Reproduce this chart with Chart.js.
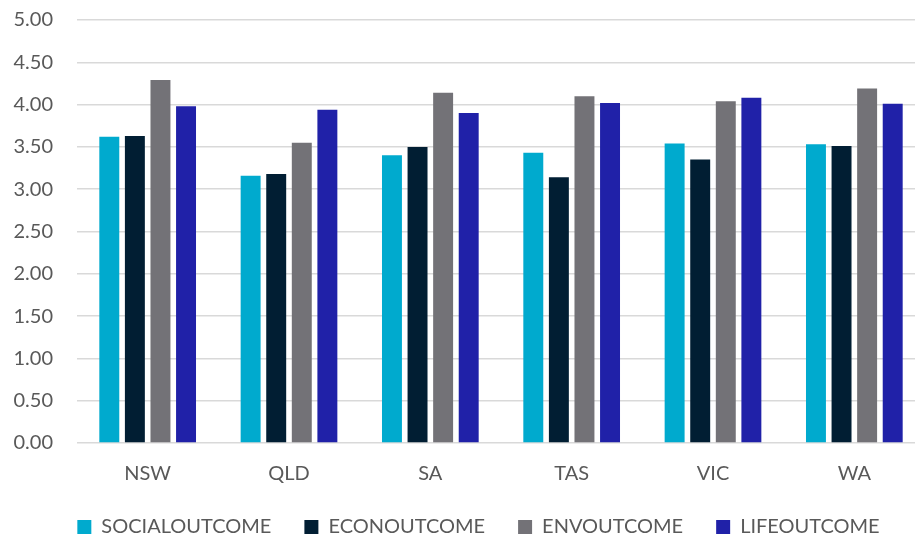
<!DOCTYPE html>
<html>
<head>
<meta charset="utf-8">
<script src="https://cdn.jsdelivr.net/npm/chart.js@4/dist/chart.umd.min.js"></script>
<style>
  html, body { margin: 0; padding: 0; background: #ffffff; overflow: hidden; }
  #wrap { width: 915px; height: 537px; overflow: hidden; }
</style>
</head>
<body>
<div id="wrap"><canvas id="c" width="925" height="537"></canvas></div>
<script>
const categories = ['NSW', 'QLD', 'SA', 'TAS', 'VIC', 'WA'];
const socialOutcome = [3.62, 3.16, 3.40, 3.43, 3.54, 3.53];
const econOutcome   = [3.63, 3.18, 3.50, 3.14, 3.35, 3.51];
const envOutcome    = [4.29, 3.55, 4.14, 4.10, 4.04, 4.19];
const lifeOutcome   = [3.98, 3.94, 3.90, 4.02, 4.08, 4.01];
const seriesNames = ['SOCIALOUTCOME', 'ECONOUTCOME', 'ENVOUTCOME', 'LIFEOUTCOME'];
const yTicks = [0, 0.5, 1, 1.5, 2, 2.5, 3, 3.5, 4, 4.5, 5];

const colors = ['#00AACE', '#011E33', '#737277', '#2021A8'];
const values = [socialOutcome, econOutcome, envOutcome, lifeOutcome];

const shiftLegend = {
  id: 'shiftLegend',
  afterLayout(chart) {
    if (chart.legend) { chart.legend.left += 32; }
  }
};

new Chart(document.getElementById('c'), {
  type: 'bar',
  data: {
    labels: categories,
    datasets: seriesNames.map((n, i) => ({
      label: n,
      data: values[i],
      backgroundColor: colors[i],
      borderWidth: 0,
      categoryPercentage: 0.724,
      barPercentage: 0.78
    }))
  },
  options: {
    responsive: false,
    animation: false,
    devicePixelRatio: 1,
    layout: { padding: { top: 20, left: 0, right: 0, bottom: 0 } },
    plugins: {
      tooltip: { enabled: false },
      legend: {
        position: 'bottom',
        maxHeight: 53,
        labels: {
          boxWidth: 14,
          boxHeight: 14,
          padding: 33,
          color: '#595959',
          font: { family: 'Lato', size: 20, lineHeight: 1.2 }
        }
      }
    },
    scales: {
      x: {
        afterFit(scale) { scale.height = 41; },
        grid: { display: false, drawTicks: false },
        border: { display: false },
        ticks: {
          padding: 19,
          color: '#595959',
          font: { family: 'Lato', size: 20, lineHeight: 1.2 }
        }
      },
      y: {
        min: 0,
        max: 5,
        afterFit(scale) {
          scale.width = 77;
          scale.paddingTop = 10;
          scale.paddingBottom = 10;
        },
        afterBuildTicks(scale) { scale.ticks = yTicks.map(v => ({ value: v })); },
        grid: { color: '#d9d9d9', lineWidth: 1.5, drawTicks: false },
        border: { display: false },
        ticks: {
          padding: 24,
          color: '#595959',
          font: { family: 'Lato', size: 20, lineHeight: 1.2 },
          callback: (v) => Number(v).toFixed(2)
        }
      }
    }
  },
  plugins: [shiftLegend]
});
</script>
</body>
</html>
